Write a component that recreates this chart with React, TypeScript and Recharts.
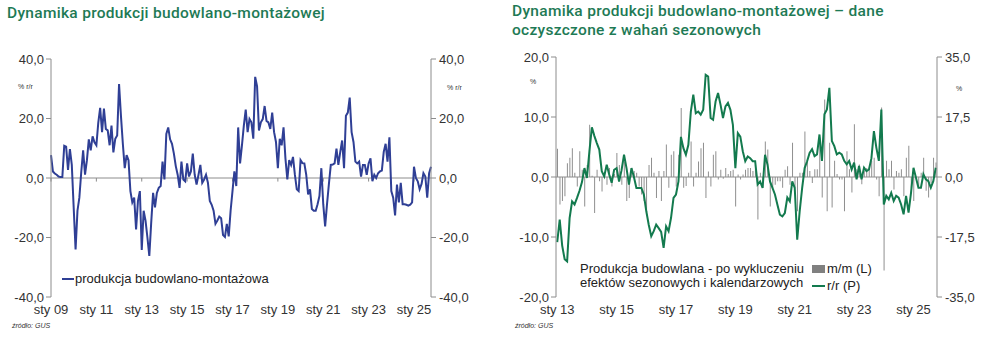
import React from "react";
import { LineChart, ComposedChart, Line, Bar, XAxis, YAxis, ReferenceLine } from "recharts";

// Polish month abbreviations used for category labels
const MONTHS = ["sty", "lut", "mar", "kwi", "maj", "cze", "lip", "sie", "wrz", "paź", "lis", "gru"];

// produkcja budowlano-montażowa, % r/r, sty 2009 - paź 2025
const productionYoY = [
  7.7, 2.2, 1.5, 1.1, 0.5, 0.3, 0.3, 10.8, 10.5, 2.7, 9.7, 4.4,
  -10, -24, -11, -6.6, 2, 9.3, 1.1, 6, 13, 9.3, 14, 12,
  11, 18.5, 23.6, 15.4, 23.3, 16.5, 16, 11, 17.6, 8.6, 13.2, 14.3,
  31.6, 20.9, 11.5, 3.3, 7.7, 6, -4.4, -8.2, -6.6, -17.3, -7.7, -4.4,
  -24.2, -11, -14.3, -20, -26.2, -15, -5, -9.9, -5, -3.3, -2.7, 5.5,
  -0.5, 14.8, 17, 13, 11.5, 8.2, 4, 1.1, -3.3, 5.5, -0.5, -1.1,
  4.9, 0.5, 2.2, 8.2, 1.1, -2.2, 1, 4.4, -1.6, -0.5, 1.1, -1.6,
  -7.7, -9, -11, -15.4, -14.3, -13, -13.5, -19.2, -19.8, -15.4, -19.6, -11,
  -4.4, 2.2, -2.7, 17, 4.9, 11, 17.6, 23, 15.4, 19.8, 18.7, 13.2,
  34, 30.8, 16, 18.7, 19.8, 24.2, 19.2, 18.7, 16.5, 22, 15.4, 12.1,
  3.3, 13.2, 11, 17, 6.6, -0.5, 6, 4.4, 7.1, 1.1, -3.8, -4.4,
  6, 5, 4.9, 1.1, -5.5, -3.8, -10.4, -11, -11, -8.8, -6, 3.3,
  -8.8, -16.3, -8.8, -2, 4.4, 4.5, 4.9, 9.9, 4.4, 8.8, 12.6, 3.3,
  20.9, 22, 27, 15.4, 12.1, 5.5, 4.9, 5.5, 0.5, 4.4, 4.4, 1.1,
  4.9, 6.6, -1.1, 1.1, 0, 1.6, 2.2, 2.5, 8.8, 11.5, 5.5, 13.7,
  -4.4, -6.6, -12.6, -2.2, -8.2, -1.6, -8.8, -8.8, -9, -9.3, -9, -8.2,
  3.8, 0, -1.1, -3.8, -2, 1.6, 0.5, -6.6, 1.6, 3.8,
];

// dane oczyszczone, sty 2013 - paź 2025
const saMoM = [
  4.7, -4.6, -4.0, -3.2, 2.3, 3.2, 4.8, 0.7, -1.6, 4.3, 1.2, -4.9,
  2.0, 8.7, 0.2, -6.0, 1.2, -0.7, -2.4, 0.7, -1.3, 1.5, -1.6, 0.5,
  4.0, 2.0, -1.3, 2.6, -4.0, -3.5, 1.5, 1.0, 0.7, -1.6, -2.9, -4.0,
  -6.3, 2.0, 3.2, 0.7, -3.5, 1.0, -4.0, 1.0, 5.4, -1.8, 3.7, 4.3,
  -1.6, 3.7, 11.5, -1.8, -1.5, 0.7, 5.9, -1.6, 0.7, 2.6, 4.8, 5.7,
  -3.5, 0.9, -1.6, 3.7, 4.3, -0.4, 1.2, -0.3, 1.5, 0.5, 1.0, 1.2,
  -4.9, 0.4, -0.4, 0.4, 1.2, 1.5, 1.5, 1.0, 2.0, -7.1, 0.7, -1.8,
  5.9, 4.6, -4.9, -1.8, -1.3, -0.7, -0.7, -1.8, 1.2, 1.8, -1.3, 5.7,
  -1.8, -5.7, 0.7, 0.7, 7.6, 2.6, 1.0, -1.0, 1.3, 1.3, 6.6, -3.4,
  12.9, -5.7, 5.7, -5.1, 2.7, 0.5, -0.4, -0.4, -5.7, 4.3, 1.3, -2.6,
  8.8, 1.3, 2.1, -1.2, 1.0, 1.5, 1.3, 2.7, 3.2, -0.4, -3.2, 11.6,
  -15.6, 2.7, 1.3, 2.7, -2.1, 1.0, 0.7, 1.3, -3.2, 3.2, 5.2, -1.8,
  -4.0, -0.1, -1.5, 0.7, 3.2, -2.3, -3.4, -1.0, 3.2, 2.4,
];

const saYoY = [
  -19, -12.4, -20, -24, -24.6, -12, -7.1, -8, -6.1, -4, -1.5, 2.6,
  -0.3, 7.5, 14.5, 12, 9.9, 8, 1.7, 0.2, 3.6, 0.7, -1.7, 2.1,
  2.6, -1.3, 2, 6.5, 2.6, -2.2, 2.6, 0, -3.2, -3.2, -3.2, -5.1,
  -10, -14, -17.3, -15.8, -13.9, -14.9, -16, -20.7, -14.4, -15.8, -11.9, -6.1,
  -5.1, -1.3, 11.7, 8.4, 6.5, 9.4, 19.1, 24, 18.6, 19.1, 18.2, 19.6,
  29.8, 29.3, 17.2, 16.7, 22, 24.5, 21.1, 17.2, 20.6, 21.6, 19.6, 15.2,
  2.6, 12.8, 11.8, 7.5, 4.6, 6, 5.5, 4.6, 4.6, -2.2, -1.3, -3.2,
  6.5, 3.6, -1.3, -3.2, -5.1, -8.1, -11, -11.5, -10.5, -6, -7.1, -1.3,
  -3.2, -18.3, -10, -3.2, 2.6, 4.6, 7, 8.1, 6.1, 6.6, 12.4, 4.7,
  18.3, 19.7, 26, 10.5, 9, 6.6, 7.1, 6.6, 4.7, 3.7, 4.7, 2.2,
  4.2, -0.7, 3.2, -0.7, 2.7, 1.7, 2.2, 5.5, 13.4, 8.5, 4.7, 19.7,
  -8, -5.5, -6.5, -4.6, -7, -5.5, -6, -8, -10.9, -5.5, -10.4, -4.6,
  2.7, -0.2, -3.1, -3.1, 0.8, -0.7, -1.2, -3.1, -1.2, 2.7,
];

const leftXTicks = ["sty 09", "sty 11", "sty 13", "sty 15", "sty 17", "sty 19", "sty 21", "sty 23", "sty 25"];
const rightXTicks = ["sty 13", "sty 15", "sty 17", "sty 19", "sty 21", "sty 23", "sty 25"];
const leftYTicks = [-40, -20, 0, 20, 40];
const mmTicks = [-20, -10, 0, 10, 20];
const rrTicks = [-35, -17.5, 0, 17.5, 35];

function monthLabels(startYear: number, n: number) {
  const out: string[] = [];
  for (let i = 0; i < n; i++) {
    const yy = (startYear + Math.floor(i / 12)) % 100;
    out.push(`${MONTHS[i % 12]} ${String(yy).padStart(2, "0")}`);
  }
  return out;
}

const leftLabels = monthLabels(2009, productionYoY.length);
const rightLabels = monthLabels(2013, saYoY.length);

const leftData = productionYoY.map((v, i) => ({ month: leftLabels[i], yoy: v }));
const rightData = saYoY.map((v, i) => ({ month: rightLabels[i], mom: saMoM[i], yoy: v }));

const fmt = (v: number) => v.toFixed(1).replace(".", ",");

const AXIS = "#8c8c8c";
const BLUE = "#2f3f95";
const GREEN = "#137a4e";
const TITLE = "#1e7a55";
const tickStyle = { fontSize: 13, fill: "#333", fontFamily: "'Liberation Sans', Arial, sans-serif" };

const titleStyle: React.CSSProperties = {
  position: "absolute",
  fontFamily: "Roboto, sans-serif",
  fontWeight: 500,
  fontSize: 15.5,
  lineHeight: "18px",
  letterSpacing: 0.3,
  color: TITLE,
  whiteSpace: "nowrap",
};
const small: React.CSSProperties = { position: "absolute", fontSize: 7, color: "#333" };
const legendText: React.CSSProperties = { position: "absolute", fontSize: 13, color: "#222", lineHeight: "14px" };

export default function App() {
  return (
    <div
      style={{
        position: "absolute",
        left: 0,
        top: 0,
        width: 985,
        height: 341,
        background: "#fff",
        overflow: "hidden",
        fontFamily: "'Liberation Sans', Arial, sans-serif",
      }}
    >
      <div style={{ ...titleStyle, left: 7, top: 4 }}>Dynamika produkcji budowlano-montażowej</div>
      <div style={{ ...titleStyle, left: 512, top: 2 }}>Dynamika produkcji budowlano-montażowej – dane</div>
      <div style={{ ...titleStyle, left: 512, top: 20.5 }}>oczyszczone z wahań sezonowych</div>

      {/* left chart */}
      <div style={{ position: "absolute", left: 0, top: 0 }}>
        <LineChart width={490} height={341} data={leftData} margin={{ top: 59, right: 0, bottom: 14, left: 0 }}>
          <XAxis dataKey="month" ticks={leftXTicks} interval={0} axisLine={false} tickLine={false} tick={tickStyle} />
          <YAxis
            yAxisId="l"
            domain={[-40, 40]}
            ticks={leftYTicks}
            width={51}
            tickSize={5}
            tickMargin={2}
            tickFormatter={fmt}
            tick={tickStyle}
            axisLine={{ stroke: AXIS }}
            tickLine={{ stroke: AXIS }}
          />
          <YAxis
            yAxisId="r"
            orientation="right"
            domain={[-40, 40]}
            ticks={leftYTicks}
            width={59}
            tickSize={5}
            tickMargin={3}
            tickFormatter={fmt}
            tick={tickStyle}
            axisLine={{ stroke: AXIS }}
            tickLine={{ stroke: AXIS }}
          />
          <ReferenceLine yAxisId="l" y={0} stroke={AXIS} />
          {leftXTicks.map((t) => (
            <ReferenceLine
              key={t}
              yAxisId="l"
              segment={[{ x: t, y: 0 }, { x: t, y: -1.2 }]}
              stroke={AXIS}
            />
          ))}
          {/* mirror of the series on the right axis, kept invisible so the axis gets its ticks */}
          <Line yAxisId="r" dataKey="yoy" stroke="none" dot={false} activeDot={false} isAnimationActive={false} />
          <Line yAxisId="l" dataKey="yoy" stroke={BLUE} strokeWidth={2} dot={false} isAnimationActive={false} />
        </LineChart>
      </div>
      <div style={{ ...small, left: 18, top: 83 }}>% r/r</div>
      <div style={{ ...small, left: 447, top: 84 }}>% r/r</div>
      <div style={{ position: "absolute", left: 62, top: 278, width: 12, height: 2, background: BLUE }} />
      <div style={{ ...legendText, left: 75, top: 272 }}>produkcja budowlano-montażowa</div>
      <div style={{ ...small, left: 12, top: 322, fontStyle: "italic" }}>źródło: GUS</div>

      {/* right chart */}
      <div style={{ position: "absolute", left: 500, top: 0 }}>
        <ComposedChart width={485} height={341} data={rightData} margin={{ top: 57, right: 0, bottom: 14, left: 0 }}>
          <XAxis dataKey="month" ticks={rightXTicks} interval={0} axisLine={false} tickLine={false} tick={tickStyle} />
          <YAxis
            yAxisId="l"
            domain={[-20, 20]}
            ticks={mmTicks}
            width={56}
            tickSize={5}
            tickMargin={2}
            tickFormatter={fmt}
            tick={tickStyle}
            axisLine={{ stroke: AXIS }}
            tickLine={{ stroke: AXIS }}
          />
          <YAxis
            yAxisId="r"
            orientation="right"
            domain={[-35, 35]}
            ticks={rrTicks}
            width={48}
            tickSize={5}
            tickMargin={3}
            tickFormatter={fmt}
            tick={tickStyle}
            axisLine={{ stroke: AXIS }}
            tickLine={{ stroke: AXIS }}
          />
          <ReferenceLine yAxisId="l" y={0} stroke={AXIS} />
          <Bar yAxisId="l" dataKey="mom" fill="#8f8f8f" barSize={1} isAnimationActive={false} />
          <Line yAxisId="r" dataKey="yoy" stroke={GREEN} strokeWidth={2} dot={false} isAnimationActive={false} />
        </ComposedChart>
      </div>
      <div style={{ ...small, left: 530, top: 78 }}>%</div>
      <div style={{ ...small, left: 956, top: 85 }}>%</div>
      <div style={{ ...legendText, left: 580, top: 262 }}>
        Produkcja budowlana - po wykluczeniu
        <br />
        efektów sezonowych i kalendarzowych
      </div>
      <div style={{ position: "absolute", left: 812, top: 265, width: 13, height: 8, background: "#808080" }} />
      <div style={{ ...legendText, left: 827, top: 262 }}>m/m (L)</div>
      <div style={{ position: "absolute", left: 812, top: 285, width: 13, height: 2, background: GREEN }} />
      <div style={{ ...legendText, left: 827, top: 279 }}>r/r (P)</div>
      <div style={{ ...small, left: 515, top: 322, fontStyle: "italic" }}>źródło: GUS</div>
    </div>
  );
}
